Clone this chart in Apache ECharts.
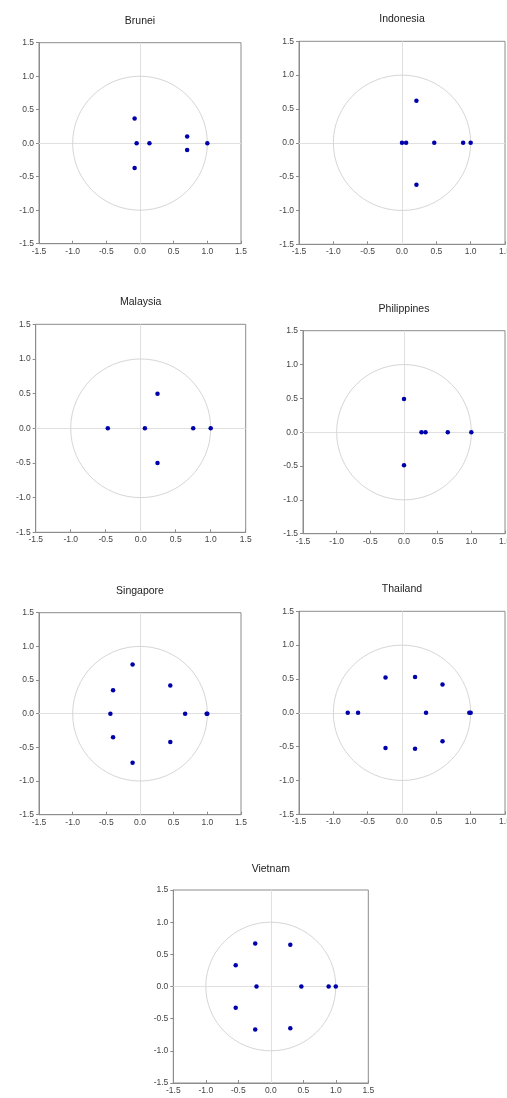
<!DOCTYPE html>
<html>
<head>
<meta charset="utf-8">
<script src="https://cdn.jsdelivr.net/npm/echarts@6/dist/echarts.min.js"></script>
<style>
html,body{margin:0;padding:0;background:#fff;}
#chart{width:507px;height:1098px;}
</style>
</head>
<body>
<div id="chart"></div>
<script>
// ---- data (inverse roots: real and imaginary parts) ----
var countries = ['Brunei','Indonesia','Malaysia','Philippines','Singapore','Thailand','Vietnam'];
var bruneiRe = [-0.08, -0.08, -0.05, 0.14, 0.70, 0.70, 1.00];
var bruneiIm = [0.37, -0.37, 0.00, 0.00, 0.10, -0.10, 0.00];
var indonesiaRe = [0.00, 0.06, 0.21, 0.21, 0.47, 0.89, 1.00];
var indonesiaIm = [0.00, 0.00, 0.62, -0.62, 0.00, 0.00, 0.00];
var malaysiaRe = [-0.47, 0.06, 0.24, 0.24, 0.75, 1.00];
var malaysiaIm = [0.00, 0.00, 0.50, -0.50, 0.00, 0.00];
var philippinesRe = [0.00, 0.00, 0.26, 0.32, 0.65, 1.00];
var philippinesIm = [0.49, -0.49, 0.00, 0.00, 0.00, 0.00];
var singaporeRe = [-0.11, -0.11, -0.40, -0.40, -0.44, 0.45, 0.45, 0.67, 0.99, 1.00];
var singaporeIm = [0.73, -0.73, 0.35, -0.35, 0.00, 0.42, -0.42, 0.00, 0.00, 0.00];
var thailandRe = [-0.79, -0.64, -0.24, -0.24, 0.19, 0.19, 0.59, 0.59, 0.35, 0.98, 1.00];
var thailandIm = [0.00, 0.00, 0.52, -0.52, 0.53, -0.53, 0.42, -0.42, 0.00, 0.00, 0.00];
var vietnamRe = [-0.24, -0.24, -0.54, -0.54, -0.22, 0.30, 0.30, 0.47, 0.89, 1.00];
var vietnamIm = [0.67, -0.67, 0.33, -0.33, 0.00, 0.65, -0.65, 0.00, 0.00, 0.00];
var axisTicks = [-1.5, -1.0, -0.5, 0.0, 0.5, 1.0, 1.5];

var reList = [bruneiRe, indonesiaRe, malaysiaRe, philippinesRe, singaporeRe, thailandRe, vietnamRe];
var imList = [bruneiIm, indonesiaIm, malaysiaIm, philippinesIm, singaporeIm, thailandIm, vietnamIm];

// ---- layout ----
var boxes = [
  {left: 39,    top: 42.7,  width: 202, height: 201, titleY: 20.7},
  {left: 299,   top: 41.3,  width: 206, height: 203, titleY: 19},
  {left: 35.7,  top: 324.3, width: 210, height: 208, titleY: 302},
  {left: 303,   top: 330.7, width: 202, height: 203, titleY: 309},
  {left: 39,    top: 612.7, width: 202, height: 202, titleY: 590.7},
  {left: 299,   top: 611.3, width: 206, height: 203, titleY: 589},
  {left: 173.3, top: 890,   width: 195, height: 193, titleY: 869}
];

var FONT = 'Liberation Sans, Arial, sans-serif';
var frameColor = '#8c8c8c';
var grids = [], xAxes = [], yAxes = [], series = [], graphics = [];

boxes.forEach(function (b, i) {
  grids.push({left: b.left, top: b.top, width: b.width, height: b.height,
    containLabel: false, outerBoundsMode: 'none',
    show: true, borderColor: frameColor, borderWidth: 1, backgroundColor: 'transparent'});
  var common = {
    gridIndex: i, type: 'value',
    min: axisTicks[0], max: axisTicks[axisTicks.length - 1], interval: 0.5,
    splitLine: {show: false},
    axisLine: {show: true, onZero: false, lineStyle: {color: frameColor, width: 1}},
    axisLabel: {fontFamily: FONT, fontSize: 8.5, color: '#444',
      formatter: function (v) { return v.toFixed(1); }}
  };
  xAxes.push(Object.assign({}, common, {
    axisTick: {show: true, inside: true, length: 3, lineStyle: {color: frameColor}},
    axisLabel: Object.assign({}, common.axisLabel, {margin: 3})
  }));
  yAxes.push(Object.assign({}, common, {
    axisTick: {show: true, inside: false, length: 3, lineStyle: {color: frameColor}},
    axisLabel: Object.assign({}, common.axisLabel, {margin: 5})
  }));
  // unit circle and zero lines, drawn through the axes' scale, beneath the points
  series.push({
    type: 'custom', xAxisIndex: i, yAxisIndex: i, silent: true, z: 1,
    data: [[0, 0]],
    renderItem: function (params, api) {
      var c = api.coord([0, 0]);
      var r = api.size([1, 1]);
      return {type: 'ellipse', shape: {cx: c[0], cy: c[1], rx: r[0], ry: r[1]},
        style: {fill: 'none', stroke: '#d6d6d6', lineWidth: 1}};
    },
    markLine: {
      silent: true, symbol: 'none', label: {show: false}, animation: false, z: 1,
      lineStyle: {color: '#e0e0e0', type: 'solid', width: 1},
      data: [{xAxis: 0}, {yAxis: 0}]
    }
  });
  var pts = reList[i].map(function (re, k) { return [re, imList[i][k]]; });
  series.push({
    type: 'scatter', xAxisIndex: i, yAxisIndex: i, z: 5,
    symbol: 'circle', symbolSize: 4.5,
    itemStyle: {color: '#0000aa', opacity: 1},
    data: pts
  });
  graphics.push({
    type: 'text', silent: true,
    style: {text: countries[i], x: b.left + b.width / 2, y: b.titleY,
      align: 'center', verticalAlign: 'middle',
      fontFamily: FONT, fontSize: 10.5, fill: '#222'}
  });
});

var chart = echarts.init(document.getElementById('chart'), null, {renderer: 'canvas'});
chart.setOption({
  animation: false,
  backgroundColor: '#fff',
  grid: grids, xAxis: xAxes, yAxis: yAxes, series: series,
  graphic: graphics
});
</script>
</body>
</html>
